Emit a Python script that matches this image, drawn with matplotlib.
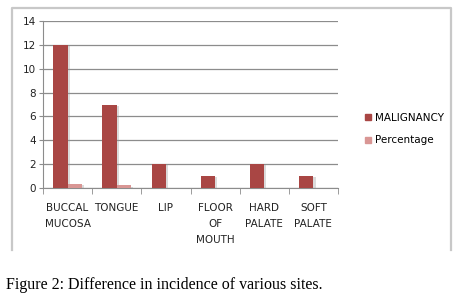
import matplotlib
matplotlib.use("Agg")
import matplotlib.pyplot as plt
import matplotlib.patheffects as pe
from matplotlib.lines import Line2D
import numpy as np

sites = ["BUCCAL\nMUCOSA", "TONGUE", "LIP", "FLOOR\nOF\nMOUTH", "HARD\nPALATE", "SOFT\nPALATE"]
malignancy = [12, 7, 2, 1, 2, 1]
percentage = [0.36, 0.21, 0, 0, 0, 0]
yticks = [0, 2, 4, 6, 8, 10, 12, 14]

dark_red = "#a94644"
light_red = "#d99694"

fig = plt.figure(figsize=(4.57, 3.02), dpi=100)

# outer chart frame (left, top, right)
frame = fig.add_axes([0, 0, 1, 1])
frame.set_xlim(0, 457)
frame.set_ylim(302, 0)
frame.axis("off")
frame.plot([11.5, 11.5, 450.5, 450.5], [250, 7.5, 7.5, 250], color="#c8c8c8", lw=1.6)

ax = fig.add_axes([43 / 457, 1 - 188 / 302, 295 / 457, 167 / 302])
x = np.arange(len(sites))
w = 0.29
shadow = [pe.SimplePatchShadow(offset=(1.5, -0.8), shadow_rgbFace="#999999", alpha=0.35), pe.Normal()]
b1 = ax.bar(x - w / 2, malignancy, w, color=dark_red, zorder=3)
b2 = ax.bar(x + w / 2, percentage, w, color=light_red, zorder=3)
for p in list(b1) + list(b2):
    p.set_path_effects(shadow)

ax.set_xlim(-0.5, len(sites) - 0.5)
ax.set_ylim(0, 14)
ax.set_yticks(yticks)
ax.yaxis.grid(True, color="#8c8c8c", lw=0.9, zorder=0)
for s in ["top", "right"]:
    ax.spines[s].set_visible(False)
ax.spines["left"].set_color("#8c8c8c")
ax.spines["bottom"].set_color("#8c8c8c")
ax.tick_params(axis="y", length=3, color="#8c8c8c", labelsize=7.5, pad=2, labelcolor="#222222")
ax.set_xticks(x)
ax.set_xticklabels(sites, fontsize=7.5, linespacing=1.75, va="top", color="#222222")
ax.tick_params(axis="x", which="major", length=0, pad=11)
ax.set_xticks(np.arange(-0.5, len(sites)), minor=True)
ax.tick_params(axis="x", which="minor", length=4, color="#8c8c8c")

handles = [Line2D([], [], marker="s", ls="", color=dark_red, markersize=5),
           Line2D([], [], marker="s", ls="", color=light_red, markersize=5)]
fig.legend(handles, ["MALIGNANCY", "Percentage"], loc="center left",
           bbox_to_anchor=(352 / 457, 1 - 129 / 302), frameon=False,
           fontsize=7.5, handletextpad=0.1, labelspacing=1.2, handlelength=1.2)

fig.text(6 / 457, 1 - 285 / 302, "Figure 2: Difference in incidence of various sites.",
         fontsize=11.5, family="Liberation Serif", va="center")

fig.savefig("out.png", dpi=100)
